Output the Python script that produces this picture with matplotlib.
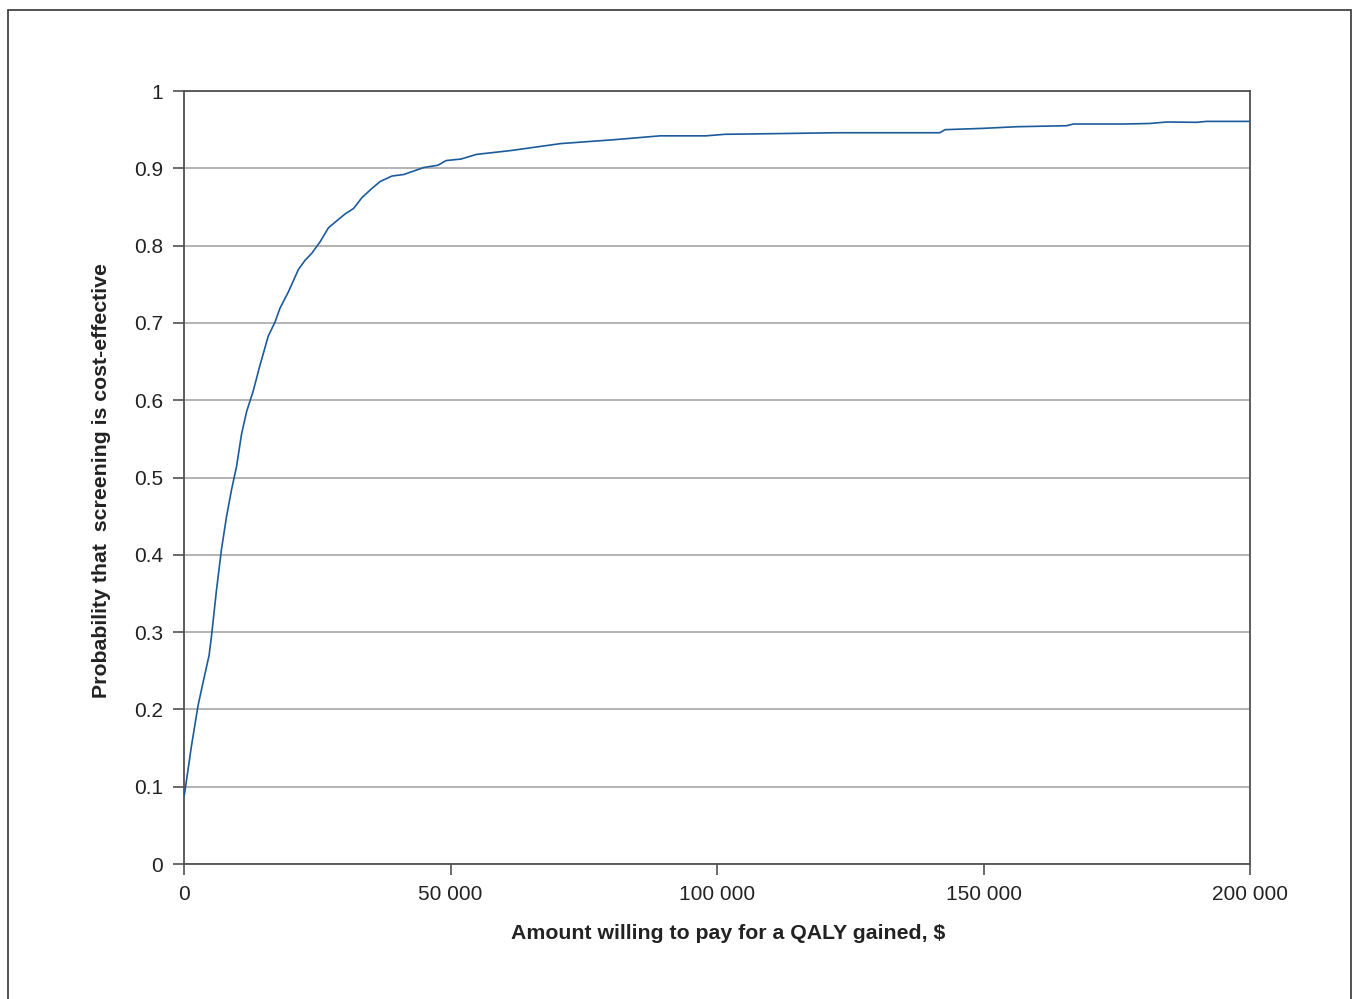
#!/usr/bin/env python3
import matplotlib

matplotlib.use("Agg")
import matplotlib.pyplot as plt
from matplotlib.patches import Rectangle
from matplotlib.ticker import FuncFormatter

plt.rcParams["font.family"] = ["Liberation Sans", "DejaVu Sans"]

# willingness to pay ($ per QALY) and probability screening is cost-effective
wtp = [0, 125, 1380, 2635, 3576, 4705, 5144, 6085, 7026, 7967, 8908, 9849,
       10790, 11731, 12986, 14241, 15809, 17064, 18005, 19573, 21455, 22710,
       23964, 25533, 27101, 28983, 30238, 31806, 33375, 35257, 36825, 39021,
       41217, 44981, 47655, 49156, 51970, 54880, 61350, 70700, 80700, 89300,
       97900, 101500, 112300, 122300, 141800, 142800, 149970, 156230, 165600,
       166860, 176200, 181240, 184370, 190000, 191870, 200000]
prob = [0.088, 0.092, 0.152, 0.205, 0.235, 0.270, 0.294, 0.354, 0.407, 0.449,
        0.484, 0.514, 0.556, 0.585, 0.612, 0.645, 0.683, 0.701, 0.719, 0.740,
        0.769, 0.781, 0.790, 0.805, 0.823, 0.834, 0.841, 0.848, 0.862, 0.874,
        0.883, 0.890, 0.892, 0.901, 0.904, 0.910, 0.912, 0.918, 0.923, 0.932,
        0.937, 0.942, 0.942, 0.944, 0.945, 0.946, 0.946, 0.950, 0.9517, 0.9538,
        0.9551, 0.9573, 0.9573, 0.958, 0.9599, 0.9595, 0.9607, 0.9607]

x_ticks = [0, 50000, 100000, 150000, 200000]
y_ticks = [0, 0.1, 0.2, 0.3, 0.4, 0.5, 0.6, 0.7, 0.8, 0.9, 1.0]

fig = plt.figure(figsize=(13.54, 9.99), dpi=100)
ax = fig.add_axes([0.1359, 0.1351, 0.7873, 0.7738])

# outer frame around the figure (bottom edge runs off the page)
fig.patches.append(Rectangle((8 / 1354, -0.05), 1343 / 1354, 1.05 - 10 / 999,
                             transform=fig.transFigure, fill=False,
                             edgecolor="#444444", linewidth=1.3, clip_on=False))

ax.plot(wtp, prob, color="#1b5b9b", linewidth=1.2, zorder=3)

ax.set_xlim(0, 200000)
ax.set_ylim(0, 1)
ax.set_xticks(x_ticks)
ax.set_yticks(y_ticks)
ax.xaxis.set_major_formatter(FuncFormatter(lambda v, p: f"{int(v):,}".replace(",", " ")))
ax.yaxis.set_major_formatter(FuncFormatter(lambda v, p: f"{v:g}"))
ax.grid(axis="y", color="#b3b3b3", linewidth=1.4, zorder=1)
ax.set_axisbelow(True)

for s in ax.spines.values():
    s.set_color("#505050")
    s.set_linewidth(1.3)
ax.tick_params(axis="both", direction="out", length=8, width=1.2, color="#505050",
               labelsize=15, labelcolor="#222222")
ax.tick_params(axis="x", pad=7)
ax.tick_params(axis="y", pad=7)

ax.set_xlabel("Amount willing to pay for a QALY gained, $", fontsize=15.3,
              fontweight="bold", color="#222222")
ax.set_ylabel("Probability that  screening is cost-effective", fontsize=15.3,
              fontweight="bold", color="#222222")
ax.xaxis.set_label_coords(0.510, -0.078)
ax.yaxis.set_label_coords(-0.0685, 0.4955)

fig.savefig("out.png", dpi=100)
